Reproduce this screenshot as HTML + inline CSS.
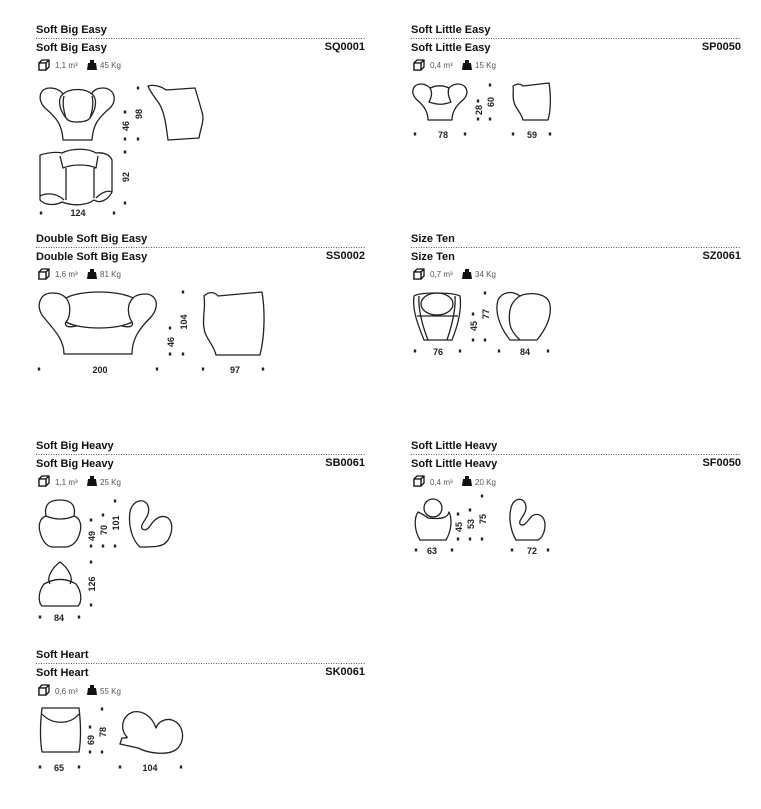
<!DOCTYPE html>
<html><head><meta charset="utf-8"><style>
html,body{margin:0;padding:0;background:#fff;}
svg{display:block;}
.t{font-family:"Liberation Sans",sans-serif;font-weight:bold;font-size:11px;fill:#111;}
.g{font-family:"Liberation Sans",sans-serif;font-size:8px;fill:#555;}
.d{font-family:"Liberation Sans",sans-serif;font-weight:bold;font-size:9px;fill:#222;}
.s{fill:none;stroke:#222;stroke-width:1.3;stroke-linejoin:round;}
</style></head><body>
<svg width="761" height="809" viewBox="0 0 761 809" xmlns="http://www.w3.org/2000/svg">
<defs>
<g id="icons">
 <path d="M2,3 L5,0 L12,0 L12,7 L9,10 L2,10 Z M2,3 L9,3 L12,0 M9,3 L9,10" fill="none" stroke="#111" stroke-width="1.3"/>
 <path d="M2,3 L9,3 L9,10 L2,10Z" fill="#fff" stroke="#111" stroke-width="1.3"/>
 <path d="M53,0 L57,0 L57,3 L59,3 L60,10 L50,10 L51,3 L53,3Z" fill="#111"/>
</g>
<g id="dot"><rect x="-1.2" y="-1.5" width="2.4" height="3" fill="#222"/></g>
</defs>

<g>
 <text class="t" x="36" y="33">Soft Big Easy</text>
 <line x1="36" y1="38.5" x2="365" y2="38.5" stroke="#555" stroke-dasharray="1,1.5"/>
 <text class="t" x="36" y="51">Soft Big Easy</text>
 <text class="t" x="365" y="50" text-anchor="end">SQ0001</text>
 <use href="#icons" x="37" y="60"/><text class="g" x="55" y="68">1,1 m³</text><text class="g" x="100" y="68">45 Kg</text>

 <text class="t" x="411" y="33">Soft Little Easy</text>
 <line x1="411" y1="38.5" x2="741" y2="38.5" stroke="#555" stroke-dasharray="1,1.5"/>
 <text class="t" x="411" y="51">Soft Little Easy</text>
 <text class="t" x="741" y="50" text-anchor="end">SP0050</text>
 <use href="#icons" x="412" y="60"/><text class="g" x="430" y="68">0,4 m³</text><text class="g" x="475" y="68">15 Kg</text>

 <text class="t" x="36" y="242">Double Soft Big Easy</text>
 <line x1="36" y1="247.5" x2="365" y2="247.5" stroke="#555" stroke-dasharray="1,1.5"/>
 <text class="t" x="36" y="260">Double Soft Big Easy</text>
 <text class="t" x="365" y="259" text-anchor="end">SS0002</text>
 <use href="#icons" x="37" y="269"/><text class="g" x="55" y="277">1,6 m³</text><text class="g" x="100" y="277">81 Kg</text>

 <text class="t" x="411" y="242">Size Ten</text>
 <line x1="411" y1="247.5" x2="741" y2="247.5" stroke="#555" stroke-dasharray="1,1.5"/>
 <text class="t" x="411" y="260">Size Ten</text>
 <text class="t" x="741" y="259" text-anchor="end">SZ0061</text>
 <use href="#icons" x="412" y="269"/><text class="g" x="430" y="277">0,7 m³</text><text class="g" x="475" y="277">34 Kg</text>

 <text class="t" x="36" y="449">Soft Big Heavy</text>
 <line x1="36" y1="454.5" x2="365" y2="454.5" stroke="#555" stroke-dasharray="1,1.5"/>
 <text class="t" x="36" y="467">Soft Big Heavy</text>
 <text class="t" x="365" y="466" text-anchor="end">SB0061</text>
 <use href="#icons" x="37" y="476"/><text class="g" x="55" y="485">1,1 m³</text><text class="g" x="100" y="485">25 Kg</text>

 <text class="t" x="411" y="449">Soft Little Heavy</text>
 <line x1="411" y1="454.5" x2="741" y2="454.5" stroke="#555" stroke-dasharray="1,1.5"/>
 <text class="t" x="411" y="467">Soft Little Heavy</text>
 <text class="t" x="741" y="466" text-anchor="end">SF0050</text>
 <use href="#icons" x="412" y="476"/><text class="g" x="430" y="485">0,4 m³</text><text class="g" x="475" y="485">20 Kg</text>

 <text class="t" x="36" y="658">Soft Heart</text>
 <line x1="36" y1="663.5" x2="365" y2="663.5" stroke="#555" stroke-dasharray="1,1.5"/>
 <text class="t" x="36" y="676">Soft Heart</text>
 <text class="t" x="365" y="675" text-anchor="end">SK0061</text>
 <use href="#icons" x="37" y="685"/><text class="g" x="55" y="694">0,6 m³</text><text class="g" x="100" y="694">55 Kg</text>
</g>

<!-- Soft Big Easy -->
<path class="s" d="M63,140 L92,140 C93,125 98,118 110,108 C118,100 114,88 103,88 C98,88 93,90 92,94 C85,88 70,88 63,94 C60,90 55,88 50,88 C39,88 37,100 45,108 C57,118 62,125 63,140Z"/>
<path class="s" d="M63,94 C58,98 58,108 66,118 C68,121 72,122 76,122 C82,122 88,121 90,118 C97,108 97,98 92,94"/>
<path class="s" d="M66,118 C64,112 62,104 64,96 M90,118 C92,112 94,104 92,96"/>
<path class="s" d="M148,86 C155,84 162,87 166,90 L195,88 C198,98 200,105 202,112 C205,120 200,130 199,138 L168,140 C166,125 165,115 160,105 C155,97 150,92 148,86Z"/>
<path class="s" d="M40,155 C50,152 58,152 62,153 C72,148 88,148 96,153 C104,152 110,155 112,160 L112,192 C108,200 100,204 94,200 C86,206 72,206 62,202 C55,206 44,205 40,200Z"/>
<path class="s" d="M60,156 L63,168 C72,164 88,164 96,168 L98,156 M66,168 L66,200 M94,168 L94,198 M40,196 C48,192 58,194 64,200 M96,198 C102,192 108,190 112,192"/>
<use href="#dot" x="138" y="88"/><use href="#dot" x="125" y="112"/><use href="#dot" x="125" y="139"/><use href="#dot" x="138" y="139"/>
<text class="d" transform="translate(129,126) rotate(-90)" text-anchor="middle">46</text>
<text class="d" transform="translate(142,114) rotate(-90)" text-anchor="middle">98</text>
<use href="#dot" x="125" y="152"/><use href="#dot" x="125" y="203"/>
<text class="d" transform="translate(129,177) rotate(-90)" text-anchor="middle">92</text>
<use href="#dot" x="41" y="213"/><use href="#dot" x="114" y="213"/>
<text class="d" x="78" y="216" text-anchor="middle">124</text>

<!-- Double Soft Big Easy -->
<path class="s" d="M64,354 L132,354 C132,340 138,330 150,318 C160,308 158,294 145,294 C139,294 135,296 133,298 C118,290 80,290 66,298 C62,294 58,293 52,293 C40,293 36,305 42,315 C52,328 64,338 64,354Z"/>
<path class="s" d="M66,298 C72,305 70,318 66,322 C80,330 118,330 132,322 C128,316 126,305 133,298 M66,322 C64,326 68,328 76,326 M132,322 C134,326 130,328 122,326"/>
<path class="s" d="M204,296 C208,292 214,291 218,296 L262,292 C265,310 265,335 260,355 L216,355 C214,345 205,338 204,328 C202,318 206,308 204,296Z"/>
<use href="#dot" x="183" y="292"/><use href="#dot" x="170" y="328"/><use href="#dot" x="170" y="354"/><use href="#dot" x="183" y="354"/>
<text class="d" transform="translate(174,342) rotate(-90)" text-anchor="middle">46</text>
<text class="d" transform="translate(187,322) rotate(-90)" text-anchor="middle">104</text>
<use href="#dot" x="39" y="369"/><use href="#dot" x="157" y="369"/><use href="#dot" x="203" y="369"/><use href="#dot" x="263" y="369"/>
<text class="d" x="100" y="373" text-anchor="middle">200</text>
<text class="d" x="235" y="373" text-anchor="middle">97</text>

<!-- Soft Little Easy -->
<path class="s" d="M428,120 L452,120 C452,110 458,104 464,99 C470,92 466,84 458,84 C454,84 451,86 449,88 C443,85 437,85 430,88 C428,86 425,84 421,84 C413,84 410,92 416,99 C422,104 428,110 428,120Z"/>
<path class="s" d="M430,88 C433,93 431,98 429,102 C438,105 443,105 451,102 C449,98 447,93 449,88"/>
<path class="s" d="M513,86 C518,83 521,84 523,86 L549,83 C551,95 551,110 548,120 L523,120 C521,112 515,108 514,102 C512,96 514,91 513,86Z"/>
<use href="#dot" x="490" y="85"/><use href="#dot" x="478" y="101"/><use href="#dot" x="478" y="119"/><use href="#dot" x="490" y="119"/>
<text class="d" transform="translate(482,110) rotate(-90)" text-anchor="middle">28</text>
<text class="d" transform="translate(494,102) rotate(-90)" text-anchor="middle">60</text>
<use href="#dot" x="415" y="134"/><use href="#dot" x="465" y="134"/><use href="#dot" x="513" y="134"/><use href="#dot" x="550" y="134"/>
<text class="d" x="443" y="138" text-anchor="middle">78</text>
<text class="d" x="532" y="138" text-anchor="middle">59</text>

<!-- Size Ten -->
<path class="s" d="M414,296 C420,292 452,292 460,296 C462,310 458,325 452,340 L424,340 C418,325 412,310 414,296Z"/>
<path class="s" d="M419,296 C418,308 422,325 428,340 M455,296 C456,308 452,325 447,340 M417,316 L458,316"/>
<ellipse class="s" cx="437" cy="304" rx="16" ry="11"/>
<path class="s" d="M510,340 C498,325 495,310 498,300 C502,292 512,290 520,296 C528,292 548,292 550,305 C552,318 545,330 537,340Z"/>
<path class="s" d="M520,296 C510,302 508,312 510,325 C512,333 518,338 520,340"/>
<use href="#dot" x="485" y="293"/><use href="#dot" x="473" y="314"/><use href="#dot" x="473" y="340"/><use href="#dot" x="485" y="340"/>
<text class="d" transform="translate(477,326) rotate(-90)" text-anchor="middle">45</text>
<text class="d" transform="translate(489,314) rotate(-90)" text-anchor="middle">77</text>
<use href="#dot" x="415" y="351"/><use href="#dot" x="460" y="351"/><use href="#dot" x="499" y="351"/><use href="#dot" x="548" y="351"/>
<text class="d" x="438" y="355" text-anchor="middle">76</text>
<text class="d" x="525" y="355" text-anchor="middle">84</text>

<!-- Soft Big Heavy -->
<path class="s" d="M46,516 C44,506 48,500 60,500 C72,500 76,506 74,516 C80,518 82,525 80,532 C78,540 74,546 66,547 L52,547 C46,546 42,540 40,532 C38,525 40,518 46,516Z"/>
<path class="s" d="M46,516 C55,520 66,520 74,516"/>
<path class="s" d="M140,547 C132,540 128,525 130,512 C132,500 145,497 148,506 C151,514 144,520 142,525 C140,530 146,532 150,526 C155,518 162,514 168,518 C173,522 173,532 168,540 C164,547 155,547 140,547Z"/>
<path class="s" d="M50,584 C46,578 52,568 60,562 C68,568 74,578 70,584"/>
<path class="s" d="M44,584 C55,578 66,578 76,584 C82,592 82,602 78,606 L42,606 C38,602 38,592 44,584Z"/>
<use href="#dot" x="115" y="501"/><use href="#dot" x="103" y="515"/><use href="#dot" x="91" y="520"/><use href="#dot" x="91" y="546"/><use href="#dot" x="103" y="546"/><use href="#dot" x="115" y="546"/>
<text class="d" transform="translate(95,536) rotate(-90)" text-anchor="middle">49</text>
<text class="d" transform="translate(107,530) rotate(-90)" text-anchor="middle">70</text>
<text class="d" transform="translate(119,523) rotate(-90)" text-anchor="middle">101</text>
<use href="#dot" x="91" y="562"/><use href="#dot" x="91" y="605"/>
<text class="d" transform="translate(95,584) rotate(-90)" text-anchor="middle">126</text>
<use href="#dot" x="40" y="617"/><use href="#dot" x="79" y="617"/>
<text class="d" x="59" y="621" text-anchor="middle">84</text>

<!-- Soft Little Heavy -->
<path class="s" d="M420,540 C414,530 414,518 418,512 C422,514 426,516 428,518 C445,520 448,516 449,512 C452,518 452,530 446,540Z"/>
<circle class="s" cx="433" cy="508" r="9"/>
<path class="s" d="M516,540 C510,530 508,515 512,505 C516,496 526,498 526,508 C526,515 518,520 520,524 C524,528 528,520 532,516 C538,512 545,516 545,525 C545,532 542,538 538,540Z"/>
<use href="#dot" x="482" y="496"/><use href="#dot" x="470" y="510"/><use href="#dot" x="458" y="514"/><use href="#dot" x="458" y="539"/><use href="#dot" x="470" y="539"/><use href="#dot" x="482" y="539"/>
<text class="d" transform="translate(462,527) rotate(-90)" text-anchor="middle">45</text>
<text class="d" transform="translate(474,524) rotate(-90)" text-anchor="middle">53</text>
<text class="d" transform="translate(486,519) rotate(-90)" text-anchor="middle">75</text>
<use href="#dot" x="416" y="550"/><use href="#dot" x="452" y="550"/><use href="#dot" x="512" y="550"/><use href="#dot" x="548" y="550"/>
<text class="d" x="432" y="554" text-anchor="middle">63</text>
<text class="d" x="532" y="554" text-anchor="middle">72</text>

<!-- Soft Heart -->
<path class="s" d="M42,708 L79,708 C81,725 81,740 79,752 L42,752 C40,740 40,725 42,708Z"/>
<path class="s" d="M42,714 C52,725 70,725 79,714"/>
<path class="s" d="M120,744 L138,748 C150,754 170,756 178,748 C186,738 183,724 172,720 C165,718 158,722 156,728 C152,716 142,710 133,712 C122,716 120,728 126,736 C128,738 128,738 122,738 Z"/>
<use href="#dot" x="102" y="709"/><use href="#dot" x="90" y="727"/><use href="#dot" x="90" y="752"/><use href="#dot" x="102" y="752"/>
<text class="d" transform="translate(94,740) rotate(-90)" text-anchor="middle">69</text>
<text class="d" transform="translate(106,732) rotate(-90)" text-anchor="middle">78</text>
<use href="#dot" x="40" y="767"/><use href="#dot" x="79" y="767"/><use href="#dot" x="120" y="767"/><use href="#dot" x="181" y="767"/>
<text class="d" x="59" y="771" text-anchor="middle">65</text>
<text class="d" x="150" y="771" text-anchor="middle">104</text>
</svg>
</body></html>
